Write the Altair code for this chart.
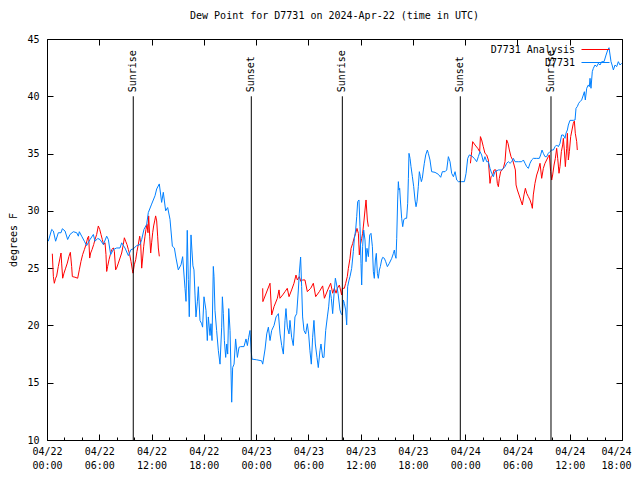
import altair as alt
import pandas as pd

FONT = "DejaVu Sans Mono"

# Observed dew point (D7731): [hour since 04/22 00:00 UTC, degrees F]
obs_points = [
    [0.15, 27.35], [0.54, 28.38], [0.73, 28.24], [0.99, 27.35], [1.30, 28.09], [1.61, 28.09],
    [1.76, 28.44], [2.07, 28.24], [2.37, 27.5], [2.64, 27.94], [3.02, 28.18], [3.41, 28.09],
    [3.60, 27.79], [3.71, 28.18], [3.98, 27.79], [4.29, 27.35], [4.55, 26.97], [4.94, 27.5],
    [5.32, 27.94], [5.51, 27.35], [5.82, 27.59], [6.08, 27.5], [6.47, 27.06], [6.85, 27.79],
    [7.04, 27.5], [7.31, 26.18], [7.61, 26.62], [7.99, 26.76], [8.38, 26.76], [8.57, 27.21],
    [8.95, 26.76], [9.34, 26.09], [9.64, 26.62], [9.91, 26.68], [10.29, 26.97], [10.68, 27.06],
    [10.87, 27.5], [11.13, 28.38], [11.44, 28.82], [11.63, 29.85], [12.01, 30.59], [12.40, 31.32],
    [12.59, 31.91], [12.89, 32.35], [13.16, 30.74], [13.35, 31.62], [13.62, 30.0], [13.85, 30.29],
    [14.12, 29.26], [14.39, 26.91], [14.62, 26.76], [14.81, 25.88], [15.07, 24.85], [15.38, 25.29],
    [15.57, 26.0], [15.84, 23.24], [15.96, 22.1], [16.1, 28.3], [16.22, 24.0], [16.33, 20.76],
    [16.53, 27.9], [16.64, 26.5], [16.75, 25.2], [16.87, 24.85], [16.99, 22.65], [17.1, 20.74],
    [17.26, 22.06], [17.37, 23.38], [17.56, 20.44], [17.75, 20.15], [17.86, 19.85], [18.02, 22.5],
    [18.25, 21.32], [18.4, 18.68], [18.52, 20.74], [18.71, 19.12], [18.82, 20.15], [18.94, 18.68],
    [19.09, 25.15], [19.17, 24.26], [19.28, 21.32], [19.47, 19.56], [19.67, 17.79], [19.86, 16.62],
    [20.05, 19.85], [20.13, 22.5], [20.24, 21.03], [20.36, 18.68], [20.51, 17.21], [20.63, 18.38],
    [20.74, 17.5], [20.86, 21.47], [21.01, 19.56], [21.12, 16.03], [21.2, 13.3], [21.31, 16.32],
    [21.47, 16.62], [21.65, 18.82], [21.85, 17.21], [22.04, 18.09], [22.23, 18.15], [22.61, 18.15],
    [22.84, 18.82], [23.0, 18.24], [23.15, 18.97], [23.3, 19.56], [23.45, 17.65], [23.53, 17.06],
    [24.07, 17.0], [24.64, 16.91], [24.76, 16.62], [25.03, 17.94], [25.22, 19.26], [25.41, 19.85],
    [25.6, 18.68], [25.79, 19.56], [26.06, 20.0], [26.29, 20.74], [26.56, 21.03], [26.75, 19.26],
    [26.94, 18.24], [27.13, 17.5], [27.32, 20.44], [27.43, 21.47], [27.59, 19.85], [27.78, 19.26],
    [27.89, 20.44], [28.08, 18.97], [28.27, 18.24], [28.46, 20.74], [28.66, 21.03], [28.85, 23.09],
    [28.96, 24.56], [29.11, 25.97], [29.23, 23.38], [29.34, 20.74], [29.5, 19.56], [29.69, 19.26],
    [29.88, 20.15], [30.03, 19.26], [30.18, 17.79], [30.34, 16.62], [30.49, 18.97], [30.64, 20.44],
    [30.8, 18.38], [30.99, 17.21], [31.14, 16.32], [31.33, 17.79], [31.45, 18.38], [31.64, 17.21],
    [31.79, 17.21], [31.99, 19.56], [32.18, 20.74], [32.33, 21.62], [32.49, 23.09], [32.64, 22.35],
    [32.79, 21.03], [32.95, 22.79], [33.1, 24.12], [33.25, 23.53], [33.41, 22.79], [33.63, 21.35],
    [33.75, 21.05], [33.9, 20.91], [34.01, 22.22], [34.13, 21.93], [34.28, 21.35], [34.4, 20.04],
    [34.51, 23.38], [34.67, 23.96], [34.78, 24.26], [34.97, 24.98], [35.16, 26.44], [35.28, 27.6],
    [35.43, 28.33], [35.55, 29.49], [35.66, 30.8], [35.81, 30.95], [35.93, 28.62], [36.04, 25.42],
    [36.12, 23.53], [36.23, 26.87], [36.35, 28.33], [36.5, 27.46], [36.62, 25.56], [36.73, 26.73],
    [36.89, 26.0], [37.04, 27.89], [37.19, 28.04], [37.35, 26.87], [37.46, 24.69], [37.57, 24.11],
    [37.69, 25.71], [37.8, 26.29], [37.92, 24.55], [38.03, 24.11], [38.15, 24.84], [38.26, 25.13],
    [38.41, 25.71], [38.53, 25.94], [38.72, 25.86], [38.88, 25.56], [39.07, 25.13], [39.29, 25.42],
    [39.57, 25.86], [39.76, 26.29], [39.87, 26.58], [39.95, 26.15], [40.06, 25.86], [40.14, 27.6],
    [40.25, 30.95], [40.33, 32.55], [40.4, 31.82], [40.48, 31.97], [40.56, 30.95], [40.71, 29.35],
    [40.83, 28.62], [40.94, 29.2], [41.09, 29.35], [41.28, 29.35], [41.4, 30.66], [41.48, 32.84],
    [41.55, 35.02], [41.67, 34.58], [41.78, 33.86], [41.94, 32.98], [42.09, 32.11], [42.24, 30.95],
    [42.36, 30.36], [42.47, 30.8], [42.62, 32.11], [42.74, 33.42], [42.86, 32.98], [42.97, 32.55],
    [43.08, 32.84], [43.2, 33.57], [43.31, 34.15], [43.47, 34.88], [43.66, 35.31], [43.77, 35.02],
    [43.96, 34.44], [44.15, 33.42], [44.54, 33.36], [44.92, 33.19], [45.19, 32.93], [45.38, 33.42],
    [45.69, 33.42], [45.88, 33.57], [46.07, 34.73], [46.26, 34.29], [46.45, 33.27], [46.65, 32.98],
    [46.84, 33.42], [47.03, 32.69], [47.22, 32.55], [47.6, 32.55], [47.91, 32.55], [48.1, 33.27],
    [48.29, 34.58], [48.48, 34.88], [48.75, 34.79], [49.05, 34.58], [49.32, 34.29], [49.51, 34.73],
    [49.7, 35.17], [49.89, 34.88], [50.08, 34.29], [50.27, 34.73], [50.47, 34.29], [50.66, 34.29],
    [50.85, 33.71], [51.04, 33.28], [51.23, 32.98], [51.42, 33.42], [51.81, 33.57], [52.19, 33.57],
    [52.57, 33.86], [52.76, 34.15], [52.96, 34.29], [53.15, 34.15], [53.34, 34.29], [53.53, 34.58],
    [53.72, 34.29], [54.1, 34.29], [54.49, 34.29], [54.68, 34.44], [54.87, 34.15], [55.06, 33.86],
    [55.25, 33.71], [55.44, 34.15], [55.63, 34.44], [55.82, 34.58], [56.21, 34.58], [56.51, 34.58],
    [56.66, 34.88], [56.82, 35.31], [56.97, 35.02], [57.16, 34.73], [57.35, 34.73], [57.54, 35.02],
    [57.73, 35.17], [57.93, 35.31], [58.12, 35.31], [58.31, 35.6], [58.5, 35.75], [58.69, 35.6],
    [58.88, 35.89], [59.07, 36.62], [59.27, 36.62], [59.46, 36.33], [59.57, 36.77], [59.73, 37.06],
    [59.84, 37.49], [60.03, 37.9], [60.41, 37.9], [60.61, 37.93], [60.72, 38.95], [60.87, 39.1],
    [61.03, 39.39], [61.18, 39.53], [61.37, 39.68], [61.56, 40.11], [61.68, 40.4], [61.79, 39.68],
    [61.95, 40.7], [62.14, 40.99], [62.25, 40.84], [62.33, 41.57], [62.44, 40.7], [62.59, 42.15],
    [62.71, 42.44], [62.9, 42.73], [63.09, 42.59], [63.29, 42.88], [63.48, 42.73], [63.67, 43.02],
    [63.94, 43.02], [64.17, 43.6], [64.36, 44.04], [64.51, 44.24], [64.63, 43.6], [64.74, 43.02],
    [64.86, 42.73], [65.01, 42.3], [65.2, 42.73], [65.39, 42.59], [65.58, 43.02], [65.77, 42.73],
    [65.97, 42.88],
]

# Analysis dew point (D7731 Analysis), three separate runs
ana_run1 = [
    [0.61, 26.26], [0.73, 24.26], [0.84, 23.68], [0.99, 24.12], [1.11, 24.32], [1.3, 25.15],
    [1.49, 25.88], [1.61, 26.32], [1.68, 25.44], [1.8, 24.12], [1.95, 24.56], [2.14, 25.0],
    [2.33, 25.44], [2.52, 26.03], [2.68, 26.38], [2.83, 25.15], [2.91, 24.26], [3.21, 24.21],
    [3.52, 24.12], [3.71, 24.85], [3.9, 25.59], [4.09, 26.18], [4.29, 26.62], [4.48, 27.06],
    [4.67, 27.65], [4.78, 27.79], [4.9, 25.88], [5.01, 26.32], [5.17, 26.62], [5.36, 27.06],
    [5.51, 27.5], [5.7, 27.94], [5.89, 28.68], [6.05, 28.38], [6.2, 27.94], [6.35, 27.5],
    [6.5, 27.06], [6.66, 27.21], [6.77, 26.18], [6.85, 24.71], [6.96, 25.15], [7.12, 25.74],
    [7.27, 26.18], [7.42, 26.62], [7.61, 26.76], [7.73, 26.47], [7.88, 24.85], [7.99, 25.0],
    [8.19, 25.44], [8.38, 25.88], [8.57, 26.32], [8.76, 27.06], [8.88, 27.65], [9.03, 27.35],
    [9.18, 27.06], [9.34, 26.62], [9.49, 26.18], [9.64, 25.59], [9.8, 24.85], [9.87, 24.56],
    [10.02, 25.29], [10.18, 25.74], [10.33, 26.47], [10.48, 27.06], [10.64, 27.79], [10.75, 27.21],
    [10.87, 25.0], [10.98, 25.88], [11.1, 26.91], [11.25, 27.79], [11.36, 28.38], [11.48, 28.82],
    [11.59, 28.09], [11.67, 29.56], [11.79, 27.79], [11.9, 26.32], [12.01, 27.21], [12.13, 28.09],
    [12.24, 28.68], [12.36, 29.12], [12.47, 29.56], [12.59, 29.12], [12.7, 27.79], [12.78, 26.76],
    [12.89, 26.03],
]
ana_run2 = [
    [24.76, 23.24], [24.78, 22.08], [25.6, 23.68], [25.79, 20.91], [26.06, 21.64], [26.44, 22.37],
    [26.63, 23.1], [26.74, 22.37], [27.05, 22.66], [27.32, 22.95], [27.58, 23.24], [27.78, 22.51],
    [28.08, 23.1], [28.35, 23.68], [28.58, 24.4], [28.73, 23.97], [28.96, 24.26], [29.15, 23.82],
    [29.35, 23.97], [29.61, 23.97], [29.88, 22.95], [30.27, 23.24], [30.57, 23.68], [30.84, 22.51],
    [31.26, 22.95], [31.64, 23.45], [31.84, 22.37], [32.22, 23.1], [32.56, 23.68], [32.79, 22.81],
    [32.98, 23.24], [33.18, 22.81], [33.33, 23.24], [33.56, 23.53], [33.82, 22.66], [33.9, 23.24],
    [34.13, 23.24], [34.28, 23.67], [34.47, 24.26], [34.59, 24.98], [34.78, 25.86], [34.9, 26.73],
    [35.09, 27.16], [35.24, 27.6], [35.43, 28.04], [35.58, 28.47], [35.74, 28.04], [35.85, 26.15],
    [35.97, 27.02], [36.12, 27.6], [36.23, 28.04], [36.39, 29.2], [36.5, 30.07], [36.62, 30.95],
    [36.77, 29.2], [36.89, 28.62],
]
ana_run3 = [
    [48.6, 34.15], [48.75, 35.17], [48.86, 36.04], [49.13, 35.75], [49.44, 35.46], [49.66, 35.17],
    [49.75, 36.48], [49.89, 36.19], [50.08, 35.6], [50.27, 35.02], [50.47, 34.88], [50.66, 34.44],
    [50.85, 32.4], [50.97, 32.98], [51.16, 33.13], [51.31, 33.57], [51.54, 33.57], [51.69, 32.4],
    [51.81, 32.11], [51.92, 32.84], [52.07, 33.42], [52.23, 33.57], [52.38, 33.71], [52.57, 34.29],
    [52.76, 36.19], [52.92, 35.89], [53.07, 35.31], [53.26, 34.73], [53.45, 34.44], [53.61, 34.0],
    [53.76, 33.57], [53.84, 32.26], [53.99, 31.82], [54.18, 31.39], [54.37, 30.95], [54.56, 30.51],
    [54.75, 31.39], [54.91, 31.97], [55.06, 31.53], [55.25, 31.24], [55.44, 30.95], [55.63, 30.51],
    [55.71, 30.22], [55.82, 31.39], [56.01, 32.4], [56.21, 33.13], [56.4, 33.57], [56.59, 34.15],
    [56.78, 32.84], [56.97, 33.71], [57.16, 34.15], [57.35, 34.44], [57.54, 34.73], [57.66, 34.88],
    [57.81, 33.42], [57.93, 32.69], [58.04, 33.13], [58.2, 34.0], [58.35, 34.58], [58.5, 35.46],
    [58.62, 34.58], [58.77, 33.28], [58.88, 33.86], [59.04, 35.17], [59.19, 35.75], [59.27, 36.33],
    [59.38, 35.31], [59.5, 33.86], [59.65, 35.46], [59.73, 36.77], [59.84, 34.44], [59.96, 35.17],
    [60.11, 36.48], [60.26, 37.06], [60.41, 37.64], [60.53, 37.84], [60.64, 36.77], [60.8, 36.04],
    [60.87, 35.31],
]

# Sunrise / sunset times (hours since 04/22 00:00 UTC)
sun_hours = [9.9, 23.45, 33.9, 47.44, 57.85]
sun_labels = ["Sunrise", "Sunset", "Sunrise", "Sunset", "Sunrise"]

series_names = ["D7731 Analysis", "D7731"]
series_colors = ["#ff0000", "#0080ff"]

obs_df = pd.DataFrame(obs_points, columns=["hour", "dewpoint"])
obs_df["series"] = series_names[1]
obs_df["run"] = 0
frames = []
for i, run in enumerate([ana_run1, ana_run2, ana_run3]):
    f = pd.DataFrame(run, columns=["hour", "dewpoint"])
    f["series"] = series_names[0]
    f["run"] = i + 1
    frames.append(f)
ana_df = pd.concat(frames, ignore_index=True)
sun_df = pd.DataFrame({"hour": sun_hours, "label": sun_labels})

x_scale = alt.Scale(domain=[0, 66], nice=False, zero=False)
y_scale = alt.Scale(domain=[10, 45], nice=False, zero=False)

label_expr = ("['04/' + (22 + floor(datum.value / 24)), "
              "(datum.value % 24 < 10 ? '0' : '') + (datum.value % 24) + ':00']")

common_tick = dict(labels=False, domain=False, grid=False, title=None, tickColor="black", tickWidth=1)

x_main = alt.Axis(values=list(range(0, 67, 6)), labelExpr=label_expr, title=None, tickSize=0,
                  domain=False, grid=False, labelPadding=6, labelFont=FONT, labelFontSize=10,
                  labelColor="black", labelLineHeight=14, labelFlush=False, orient="bottom",
                  labelAlign={"condition": {"test": "datum.value >= 66", "value": "right"},
                              "value": "center"},
                  labelOffset={"condition": {"test": "datum.value >= 66", "value": 9},
                               "value": 0})
y_main = alt.Axis(values=list(range(10, 46, 5)), title="degrees F", tickSize=0, domain=False,
                  grid=False, labelPadding=8, labelFont=FONT, labelFontSize=10, labelColor="black",
                  titleFont=FONT, titleFontSize=10, titleFontWeight="normal", titleColor="black",
                  titlePadding=8, orient="left")

x_bot_major = alt.Axis(orient="bottom", values=list(range(0, 67, 6)), tickSize=6, offset=-6, **common_tick)
x_top_major = alt.Axis(orient="top", values=list(range(0, 67, 6)), tickSize=6, offset=-6, **common_tick)
x_bot_minor = alt.Axis(orient="bottom", values=list(range(0, 67, 2)), tickSize=3, offset=-3, **common_tick)
y_left_tick = alt.Axis(orient="left", values=list(range(10, 46, 5)), tickSize=6, offset=-6, **common_tick)
y_right_tick = alt.Axis(orient="right", values=list(range(10, 46, 5)), tickSize=6, offset=-6, **common_tick)


def key(color, y):
    # gnuplot-style key entry: text on the left, short line sample on its right
    return alt.Legend(title=None, orient="none", legendX=517, legendY=y,
                      symbolType="M2.4,0L8,0", symbolSize=100, symbolStrokeWidth=1,
                      symbolOpacity=1, symbolStrokeColor=color,
                      labelFont=FONT, labelFontSize=10, labelColor="black",
                      labelAlign="right", labelOffset=0, padding=0)


red = alt.Chart(ana_df).mark_line(strokeWidth=1).encode(
    x=alt.X("hour:Q", scale=x_scale, axis=x_main),
    y=alt.Y("dewpoint:Q", scale=y_scale, axis=y_main),
    color=alt.Color("series:N",
                    scale=alt.Scale(domain=[series_names[0]], range=[series_colors[0]]),
                    legend=key(series_colors[0], 5)),
    detail="run:N",
)
blue = alt.Chart(obs_df).mark_line(strokeWidth=1).encode(
    x=alt.X("hour:Q", scale=x_scale, axis=x_bot_major),
    y=alt.Y("dewpoint:Q", scale=y_scale, axis=y_left_tick),
    color=alt.Color("series:N",
                    scale=alt.Scale(domain=[series_names[1]], range=[series_colors[1]]),
                    legend=key(series_colors[1], 18)),
)
rules = alt.Chart(sun_df).mark_rule(color="black", strokeWidth=1).encode(
    x=alt.X("hour:Q", scale=x_scale, axis=x_top_major),
    y=alt.YDatum(10, scale=y_scale, axis=y_right_tick),
    y2=alt.Y2Datum(40),
)
texts = alt.Chart(sun_df).mark_text(angle=270, align="left", baseline="middle", font=FONT,
                                    fontSize=10, color="black", dx=4).encode(
    x=alt.X("hour:Q", scale=x_scale, axis=x_bot_minor),
    y=alt.YDatum(40, scale=y_scale, axis=None),
    text="label:N",
)

chart = alt.layer(red, blue, rules, texts).resolve_axis(
    x="independent", y="independent"
).resolve_scale(
    color="independent"
).properties(
    width=575,
    height=401,
    padding={"left": 39, "top": 31, "right": 10, "bottom": 32},
    autosize=alt.AutoSizeParams(type="none"),
    background="white",
    title=alt.TitleParams("Dew Point for D7731 on 2024-Apr-22 (time in UTC)", font=FONT,
                          fontSize=10, fontWeight="normal", anchor="middle", frame="group",
                          offset=13, color="black"),
).configure_view(stroke="black", strokeWidth=1)

chart.save("out.html", embed_options={"renderer": "svg", "actions": False})
